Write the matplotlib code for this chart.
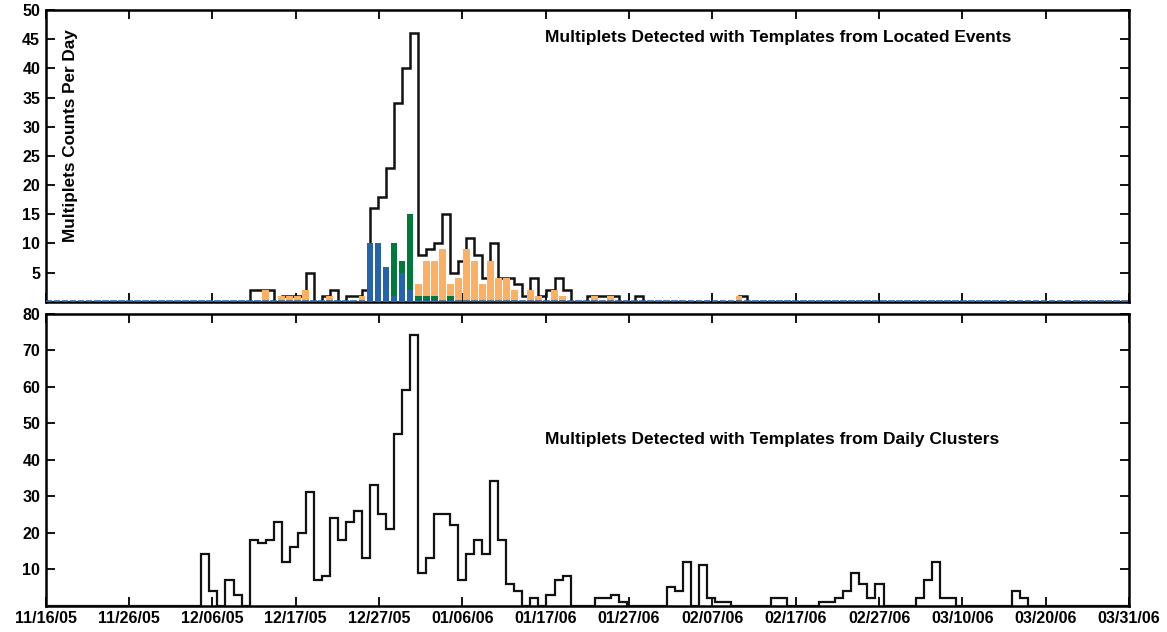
import numpy as np
import matplotlib.pyplot as plt

plt.rcParams['font.family'] = ['Liberation Sans', 'DejaVu Sans']
plt.rcParams['font.weight'] = 'bold'

# Day index counted from 11/16/05
n_days = 135
tick_labels = ['11/16/05', '11/26/05', '12/06/05', '12/17/05', '12/27/05',
               '01/06/06', '01/17/06', '01/27/06', '02/07/06', '02/17/06',
               '02/27/06', '03/10/06', '03/20/06', '03/31/06']

# Multiplets per day, templates from located events (total)
located_days = [25, 26, 27, 29, 30, 31, 32, 34, 35, 37, 38, 39, 40, 41, 42, 43,
                44, 45, 46, 47, 48, 49, 50, 51, 52, 53, 54, 55, 56, 57, 58, 59,
                60, 61, 62, 63, 64, 67, 68, 69, 70, 73, 86]
located_counts = [2, 2, 2, 1, 1, 1, 5, 1, 2, 1, 1, 2, 16, 18, 23, 34,
                  40, 46, 8, 9, 10, 15, 5, 7, 11, 8, 4, 10, 4, 4, 3, 1,
                  4, 1, 2, 4, 2, 1, 1, 1, 1, 1, 1]

# Stacked family counts (blue, green, orange)
blue_days = [40, 41, 42, 43, 44, 45]
blue_counts = [10, 10, 6, 1, 5, 2]
green_days = [43, 44, 45, 46, 47, 48, 50]
green_counts = [9, 2, 13, 1, 1, 1, 1]
orange_days = [27, 29, 30, 31, 32, 35, 39, 46, 47, 48, 49, 50, 51, 52, 53, 54,
               55, 56, 57, 58, 60, 61, 63, 64, 68, 70, 86]
orange_counts = [2, 1, 1, 1, 2, 1, 1, 2, 6, 6, 9, 2, 4, 9, 7, 3,
                 7, 4, 4, 2, 2, 1, 2, 1, 1, 1, 1]

# Multiplets per day, templates from daily clusters
cluster_days = [19, 20, 22, 23, 25, 26, 27, 28, 29, 30, 31, 32, 33, 34, 35, 36,
                37, 38, 39, 40, 41, 42, 43, 44, 45, 46, 47, 48, 49, 50, 51, 52,
                53, 54, 55, 56, 57, 58, 60, 62, 63, 64, 68, 69, 70, 71, 77, 78,
                79, 81, 82, 83, 84, 90, 91, 96, 97, 98, 99, 100, 101, 102, 103,
                108, 109, 110, 111, 112, 120, 121]
cluster_counts = [14, 4, 7, 3, 18, 17, 18, 23, 12, 16, 20, 31, 7, 8, 24, 18,
                  23, 26, 13, 33, 25, 21, 47, 59, 74, 9, 13, 25, 25, 22, 7, 14,
                  18, 14, 34, 18, 6, 4, 2, 3, 7, 8, 2, 2, 3, 1, 5, 4,
                  12, 11, 2, 1, 1, 2, 2, 1, 1, 2, 4, 9, 6, 2, 6,
                  2, 7, 12, 2, 2, 4, 2]

BLUE = '#2563ad'
GREEN = '#007a3a'
ORANGE = '#fdb062'
OFF = 0.4      # day bins start a little after midnight
BAR_W = 0.85

all_days = np.arange(-1, n_days + 1)


def full_series(days, counts):
    vals = np.zeros(len(all_days))
    vals[np.asarray(days) + 1] = counts
    return vals


def style_axes(ax, ymax, yticks, show_xlabels):
    ax.set_xlim(0, n_days)
    ax.set_ylim(0, ymax)
    xt = np.linspace(0, n_days, len(tick_labels))
    ax.set_xticks(xt)
    ax.set_xticklabels(tick_labels if show_xlabels else [])
    ax.set_yticks(yticks)
    ax.set_yticklabels([str(v) for v in yticks])
    ax.tick_params(direction='in', length=6.5, width=1.3, top=True, right=True,
                   labelsize=11.5, pad=4)
    for s in ax.spines.values():
        s.set_linewidth(1.8)


fig = plt.figure(figsize=(11.67, 6.32), dpi=100)
ax1 = fig.add_axes([0.0392, 0.5226, 0.9283, 0.4616])
ax2 = fig.add_axes([0.0392, 0.0419, 0.9283, 0.4620])

edges = np.append(all_days, all_days[-1] + 1) + OFF

# Upper panel
ax1.stairs(full_series(located_days, located_counts), edges, baseline=None,
           color='#111111', lw=1.8, zorder=3)
b = np.zeros(len(all_days))
for days, counts, col in [(blue_days, blue_counts, BLUE),
                          (green_days, green_counts, GREEN),
                          (orange_days, orange_counts, ORANGE)]:
    v = full_series(days, counts)
    m = v > 0
    ax1.bar(all_days[m] + OFF, v[m], width=BAR_W, bottom=b[m], color=col,
            edgecolor='none', zorder=4)
    b = b + v
# zero-height bars along the baseline
ax1.hlines(np.zeros(len(all_days)), all_days + OFF - BAR_W / 2,
           all_days + OFF + BAR_W / 2, colors=BLUE, lw=2.6, zorder=5,
           clip_on=True)
style_axes(ax1, 50, list(range(5, 55, 5)), False)
ax1.text(0.461, 0.904, 'Multiplets Detected with Templates from Located Events',
         transform=ax1.transAxes, ha='left', va='center', fontsize=12.5,
         fontweight='bold')
ax1.text(0.0232, 0.568, 'Multiplets Counts Per Day', transform=ax1.transAxes,
         rotation=90, ha='center', va='center', fontsize=12.3, fontweight='bold')

# Lower panel
ax2.stairs(full_series(cluster_days, cluster_counts), edges, baseline=None,
           color='#111111', lw=1.6, zorder=3)
style_axes(ax2, 80, list(range(10, 90, 10)), True)
ax2.text(0.461, 0.570, 'Multiplets Detected with Templates from Daily Clusters',
         transform=ax2.transAxes, ha='left', va='center', fontsize=12.5,
         fontweight='bold')

fig.savefig('out.png', dpi=100)
